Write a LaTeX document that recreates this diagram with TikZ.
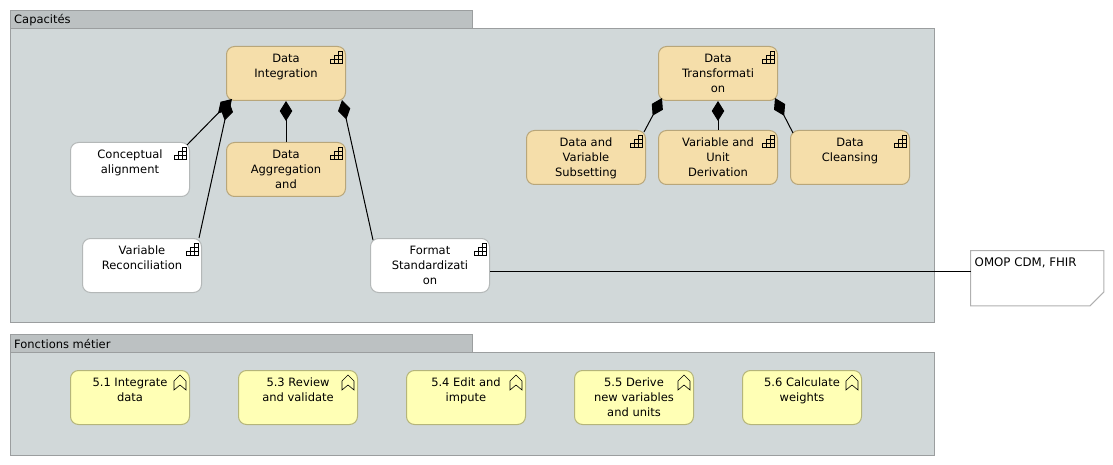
\documentclass[tikz,border=0pt]{standalone}
\usepackage{fontspec}
\setmainfont{DejaVu Sans}
\usetikzlibrary{arrows.meta,calc}
\definecolor{grp}{HTML}{D1D8D9}
\definecolor{tabc}{HTML}{BCC1C2}
\definecolor{grpb}{HTML}{9B9E9F}
\definecolor{capf}{HTML}{F5DEAA}
\definecolor{capb}{HTML}{B8A67A}
\definecolor{whb}{HTML}{B4B8B8}
\definecolor{funf}{HTML}{FFFFB5}
\definecolor{funb}{HTML}{B5B57A}
\definecolor{noteb}{HTML}{B0B0B0}
\newcommand{\elemtext}[1]{\parbox[c][54pt][t]{116pt}{\fontsize{11.5}{15}\selectfont\centering\rule{0pt}{16pt}#1\par}}
\newcommand{\capicon}[1]{%
  \begin{scope}[shift={(#1.north east)},icon]
    \draw (-16,17.5) rectangle (-3.5,13.5);
    \draw (-12,17.5) -- (-12,9.5) -- (-3.5,9.5);
    \draw (-8,17.5) -- (-8,5.5) -- (-3.5,5.5) -- (-3.5,17.5);
  \end{scope}}
\newcommand{\funicon}[1]{%
  \begin{scope}[shift={(#1.north east)},icon]
    \draw (-16,11) -- (-10,5) -- (-4,11) -- (-4,20) -- (-10,15) -- (-16,20) -- cycle;
  \end{scope}}
\tikzset{
  x=1pt,y=-1pt,
  every node/.style={font=\fontsize{11.5}{15}\selectfont,text=black},
  grpbox/.style={draw=grpb,fill=grp,line width=1pt},
  tabbox/.style={draw=grpb,fill=tabc,line width=1pt},
  tabtext/.style={anchor=west,inner sep=0pt},
  elem/.style={rounded corners=8pt,line width=1pt,minimum width=119pt,minimum height=54pt,inner sep=0pt,anchor=north west},
  capel/.style={elem,draw=capb,fill=capf},
  whel/.style={elem,draw=whb,fill=white},
  funel/.style={elem,draw=funb,fill=funf},
  icon/.style={line width=0.6pt,draw=black,line join=miter},
  comp/.style={draw=black,line width=1pt,-{Diamond[length=20pt,width=12.5pt,fill=black]}},
  assoc/.style={draw=black,line width=1pt},
}
\begin{document}
\begin{tikzpicture}
\useasboundingbox (0,0) rectangle (1113,465);
% groups
\draw[tabbox] (10.5,10.5) rectangle (472.5,28.5);
\draw[grpbox] (10.5,28.5) rectangle (934.5,322.5);
\node[tabtext] (t1) at (14,20) {Capacités};
\draw[tabbox] (10.5,334.5) rectangle (472.5,352.5);
\draw[grpbox] (10.5,352.5) rectangle (934.5,455.5);
\node[tabtext] (t2) at (14,344) {Fonctions métier};
% capabilities
\node[capel] (integ) at (226,46) {\elemtext{Data\\Integration}};
\node[whel] (concept) at (70,142) {\elemtext{Conceptual\\alignment}};
\node[capel] (aggr) at (226,142) {\elemtext{Data\\Aggregation\\and}};
\node[whel] (recon) at (82,238) {\elemtext{Variable\\Reconciliation}};
\node[whel] (format) at (370,238) {\elemtext{Format\\Standardizati\\on}};
\node[capel] (transf) at (658,46) {\elemtext{Data\\Transformati\\on}};
\node[capel] (subset) at (526,130) {\elemtext{Data and\\Variable\\Subsetting}};
\node[capel] (deriv) at (658,130) {\elemtext{Variable and\\Unit\\Derivation}};
\node[capel] (clean) at (790,130) {\elemtext{Data\\Cleansing}};
\foreach \n in {integ,concept,aggr,recon,format,transf,subset,deriv,clean}{\capicon{\n}}
% functions
\node[funel] (f1) at (70,370) {\elemtext{5.1 Integrate\\data}};
\node[funel] (f3) at (238,370) {\elemtext{5.3 Review\\and validate}};
\node[funel] (f4) at (406,370) {\elemtext{5.4 Edit and\\impute}};
\node[funel] (f5) at (574,370) {\elemtext{5.5 Derive\\new variables\\and units}};
\node[funel] (f6) at (742,370) {\elemtext{5.6 Calculate\\weights}};
\foreach \n in {f1,f3,f4,f5,f6}{\funicon{\n}}
% note
\node[anchor=north west,minimum width=133pt,minimum height=55pt,inner sep=0pt] (note) at (970.5,250.5) {};
\draw[draw=noteb,fill=white,line width=1pt] (note.north west) -- (note.north east) -- ($(note.south east)+(0,-14)$) -- ($(note.south east)+(-14,0)$) -- (note.south west) -- cycle;
\node[anchor=base west,inner sep=0pt,font=\fontsize{11.8}{15}\selectfont] (notetext) at (974.5,266) {OMOP CDM, FHIR};
% connectors
\coordinate (na) at ($(note.north west)+(0,20.5)$);
\draw[comp] ($(concept.north east)+(-3,3)$) -- ($(integ.south west)+(6,-2)$);
\draw[comp] ($(recon.north east)+(-3,0)$) -- ($(integ.south west)+(3,0)$);
\draw[comp] (aggr.north) -- (integ.south);
\draw[comp] ($(format.north west)+(3,2)$) -- ($(integ.south east)+(-4,-1)$);
\draw[comp] ($(subset.north east)+(-2,2)$) -- ($(transf.south west)+(4,-3)$);
\draw[comp] (deriv.north) -- (transf.south);
\draw[comp] ($(clean.north west)+(3,3)$) -- ($(transf.south east)+(-3,-3)$);
\draw[assoc] (format.east |- na) -- (na);
\end{tikzpicture}
\end{document}
